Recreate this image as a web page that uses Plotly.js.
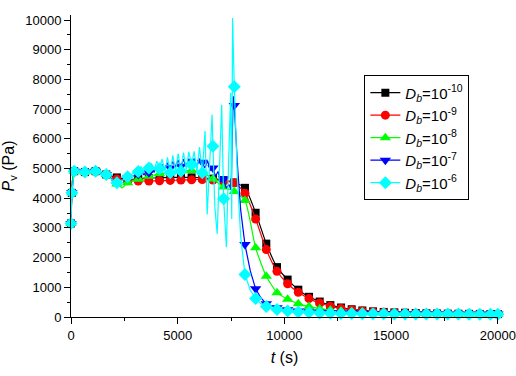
<!DOCTYPE html>
<html>
<head>
<meta charset="utf-8">
<script src="https://cdn.plot.ly/plotly-3.0.1.min.js"></script>
<style>
  html, body { margin: 0; padding: 0; background: #fff; }
  #chart { width: 516px; height: 376px; }
</style>
</head>
<body>
<div id="chart"></div>
<script>
// Vapour pressure P_v (Pa) versus time t (s) for five diffusion coefficients D_b.

// Times at which symbols are drawn (shared by every series)
const tMark = [0, 40, 150, 650, 1150, 1650, 2150, 2650, 3150, 3650, 4150, 4650, 5150, 5650,
  6150, 6650, 7150, 7650, 8150, 8650, 9150, 9650, 10150, 10650, 11150, 11650, 12150, 12650,
  13150, 13650, 14150, 14650, 15150, 15650, 16150, 16650, 17150, 17650, 18150, 18650, 19150,
  19650, 20000];

// D_b = 1e-10
const pMark10 = [3150, 4180, 4910, 4880, 4910, 4800, 4700, 4640, 4650, 4670, 4690, 4700, 4700, 4700,
  4690, 4660, 4610, 4530, 4350, 3510, 2470, 1680, 1260, 920, 680, 520, 400, 320,
  260, 220, 190, 170, 155, 143, 133, 125, 119, 114, 110, 106, 103,
  100, 98];

// D_b = 1e-9
const pMark9 = [3150, 4180, 4910, 4880, 4910, 4800, 4650, 4590, 4580, 4580, 4590, 4600, 4610, 4620,
  4630, 4610, 4580, 4520, 4170, 3300, 2270, 1540, 1120, 830, 620, 470, 365, 290,
  240, 205, 180, 160, 145, 135, 126, 119, 113, 108, 104, 101, 98,
  96, 94];

// D_b = 1e-8
const pMark8 = [3150, 4180, 4910, 4880, 4910, 4800, 4480, 4520, 4640, 4740, 4820, 4880, 4920, 4930,
  4880, 4650, 4380, 4230, 3920, 2330, 1370, 820, 600, 450, 350, 280, 235, 200,
  175, 158, 145, 135, 127, 120, 115, 110, 106, 103, 100, 98, 96,
  94, 93];
const tLine8 = [0, 40, 150, 650, 1150, 1650, 2150, 2400, 2650, 3150, 3650, 4150, 4650, 5150, 5650,
  6150, 6650, 7150, 7650, 8150, 8650, 9150, 9650, 10150, 10650, 11150, 11650, 12150, 12650,
  13150, 13650, 14150, 14650, 15150, 15650, 16150, 16650, 17150, 17650, 18150, 18650, 19150,
  19650, 20000];
const pLine8 = [3150, 4180, 4910, 4880, 4910, 4800, 4480, 4350, 4520, 4640, 4740, 4820, 4880, 4920, 4930,
  4880, 4650, 4380, 4230, 3920, 2330, 1370, 820, 600, 450, 350, 280, 235, 200,
  175, 158, 145, 135, 127, 120, 115, 110, 106, 103, 100, 98, 96,
  94, 93];

// D_b = 1e-7
const pMark7 = [3150, 4180, 4910, 4880, 4910, 4800, 4520, 4680, 4800, 4860, 4950, 5020, 5080, 5100,
  5210, 5020, 4650, 7120, 2440, 950, 445, 310, 240, 200, 175, 160, 148, 140,
  133, 127, 122, 118, 115, 112, 110, 108, 106, 104, 102, 100, 99,
  98, 97];
const tLine7 = [0, 40, 150, 650, 1150, 1650, 2150, 2650, 3150, 3300, 3420, 3540, 3650, 3770, 3890,
  4010, 4150, 4270, 4390, 4520, 4650, 4770, 4890, 5010, 5150, 5270, 5390, 5520, 5650, 5770,
  5890, 6020, 6150, 6270, 6400, 6520, 6650, 6770, 6890, 7010, 7150, 7270, 7400, 7500, 7600,
  7650, 7800, 7950, 8150, 8400, 8650, 8900, 9150, 9650, 10150, 10650, 11150, 11650, 12150,
  12650, 13150, 13650, 14150, 14650, 15150, 15650, 16150, 16650, 17150, 17650, 18150, 18650,
  19150, 19650, 20000];
const pLine7 = [3150, 4180, 4910, 4880, 4910, 4800, 4520, 4680, 4800, 4870, 4790, 4920, 4860, 4990, 4880,
  5060, 4950, 5130, 4980, 5190, 5020, 5240, 5040, 5290, 5080, 5310, 5060, 5330, 5100, 5340,
  5060, 5330, 5210, 5020, 5260, 4940, 5020, 4740, 4900, 4540, 4650, 4340, 4460, 4280, 7430,
  7120, 5100, 3600, 2440, 1550, 950, 640, 445, 310, 240, 200, 175, 160, 148,
  140, 133, 127, 122, 118, 115, 112, 110, 108, 106, 104, 102, 100,
  99, 98, 97];

// D_b = 1e-6
const pMark6 = [3150, 4180, 4910, 4880, 4910, 4800, 4520, 4720, 4900, 5020, 4990, 4860, 4910, 5130,
  4860, 5750, 3980, 7750, 1430, 620, 350, 250, 200, 170, 150, 138, 128, 121,
  116, 112, 109, 106, 104, 102, 101, 100, 99, 98, 97, 96, 96,
  95, 95];
const tLine6 = [0, 40, 150, 650, 1150, 1650, 1900, 2150, 2400, 2650, 2900, 3150, 3280, 3400, 3530,
  3650, 3770, 3900, 4020, 4150, 4270, 4400, 4520, 4650, 4770, 4900, 5020, 5150, 5270, 5400,
  5520, 5650, 5770, 5900, 6020, 6150, 6280, 6380, 6500, 6610, 6650, 6740, 6850, 6960, 7060,
  7150, 7280, 7380, 7480, 7530, 7570, 7650, 7800, 7950, 8150, 8400, 8650, 8900, 9150, 9650,
  10150, 10650, 11150, 11650, 12150, 12650, 13150, 13650, 14150, 14650, 15150, 15650, 16150,
  16650, 17150, 17650, 18150, 18650, 19150, 19650, 20000];
const pLine6 = [3150, 4180, 4910, 4880, 4910, 4800, 4640, 4520, 4600, 4720, 4830, 4900, 5060, 4920, 5120,
  5020, 5180, 4950, 5250, 4990, 5320, 4900, 5380, 4860, 5440, 4890, 5500, 4910, 5540, 4960,
  5560, 5130, 5580, 4880, 5720, 4860, 6260, 3450, 5300, 6820, 5750, 3700, 2800, 5000, 7150,
  3980, 2350, 5100, 7550, 3300, 10070, 7750, 4600, 2700, 1430, 900, 620, 450, 350, 250,
  200, 170, 150, 138, 128, 121, 116, 112, 109, 106, 104, 102, 101,
  100, 99, 98, 97, 96, 96, 95, 95];

const legendLabels = [
  '<i>D</i><sub><i>b</i></sub>=10<sup>-10</sup>',
  '<i>D</i><sub><i>b</i></sub>=10<sup>-9</sup>',
  '<i>D</i><sub><i>b</i></sub>=10<sup>-8</sup>',
  '<i>D</i><sub><i>b</i></sub>=10<sup>-7</sup>',
  '<i>D</i><sub><i>b</i></sub>=10<sup>-6</sup>'
];

const series = [
  { tl: tMark, pl: pMark10, tm: tMark, pm: pMark10, color: '#000000', symbol: 'square', size: 8, shape: 'spline' },
  { tl: tMark, pl: pMark9,  tm: tMark, pm: pMark9,  color: '#ff0000', symbol: 'circle', size: 9, shape: 'spline' },
  { tl: tLine8, pl: pLine8, tm: tMark, pm: pMark8,  color: '#00ff00', symbol: 'triangle-up', size: 10, shape: 'spline' },
  { tl: tLine7, pl: pLine7, tm: tMark, pm: pMark7,  color: '#0000ff', symbol: 'triangle-down', size: 10, shape: 'linear' },
  { tl: tLine6, pl: pLine6, tm: tMark, pm: pMark6,  color: '#00ffff', symbol: 'diamond', size: 10, shape: 'linear' }
];

const traces = [];
series.forEach((s, i) => {
  // continuous curve
  traces.push({
    x: s.tl, y: s.pl, type: 'scatter', mode: 'lines',
    line: { color: s.color, width: 1.2, shape: s.shape, smoothing: 0.6 },
    showlegend: false, legendgroup: 'g' + i, hoverinfo: 'skip'
  });
  // symbols
  traces.push({
    x: s.tm, y: s.pm, type: 'scatter', mode: 'markers',
    marker: { color: s.color, symbol: s.symbol, size: s.size, line: { width: 0 } },
    cliponaxis: false, showlegend: false, legendgroup: 'g' + i
  });
  // legend key (line with symbol)
  traces.push({
    x: [null], y: [null], type: 'scatter', mode: 'lines+markers', name: legendLabels[i],
    line: { color: s.color, width: 1.2 },
    marker: { color: s.color, symbol: s.symbol, size: s.size, line: { width: 0 } },
    legendgroup: 'g' + i
  });
});

const fontFamily = 'Liberation Sans, Arial, sans-serif';

const layout = {
  width: 516, height: 376,
  margin: { l: 70.7, r: 18.3, t: 15, b: 59 },
  paper_bgcolor: '#ffffff', plot_bgcolor: '#ffffff',
  font: { family: fontFamily, size: 13, color: '#000000' },
  showlegend: true,
  legend: {
    x: 0.687, y: 0.80, xanchor: 'left', yanchor: 'top',
    bgcolor: '#ffffff', bordercolor: '#000000', borderwidth: 1,
    font: { family: fontFamily, size: 15, color: '#000000' },
    tracegroupgap: 0, itemwidth: 30
  },
  xaxis: {
    range: [0, 20005], showgrid: false, zeroline: false,
    showline: true, linecolor: '#000000', linewidth: 1,
    ticks: 'outside', ticklen: 6, tickwidth: 1, tickcolor: '#000000',
    tickmode: 'linear', dtick: 5000, tick0: 0, tickformat: 'd',
    ticklabeloverflow: 'allow',
    minor: { dtick: 2500, ticks: 'outside', ticklen: 3, tickcolor: '#000000', showgrid: false },
    tickfont: { family: fontFamily, size: 13, color: '#000000' },
    title: { text: '<i>t</i> (s)', font: { family: fontFamily, size: 16, color: '#000000' }, standoff: 10 }
  },
  yaxis: {
    range: [0, 10170], showgrid: false, zeroline: false,
    showline: true, linecolor: '#000000', linewidth: 1,
    ticks: 'outside', ticklen: 6, tickwidth: 1, tickcolor: '#000000',
    tickmode: 'linear', dtick: 1000, tick0: 0, tickformat: 'd',
    minor: { dtick: 500, ticks: 'outside', ticklen: 3, tickcolor: '#000000', showgrid: false },
    tickfont: { family: fontFamily, size: 13, color: '#000000' },
    title: { text: '<i>P</i><sub>v</sub> (Pa)', font: { family: fontFamily, size: 16, color: '#000000' }, standoff: 8 }
  }
};

Plotly.newPlot('chart', traces, layout, { staticPlot: true, displayModeBar: false });
</script>
</body>
</html>
